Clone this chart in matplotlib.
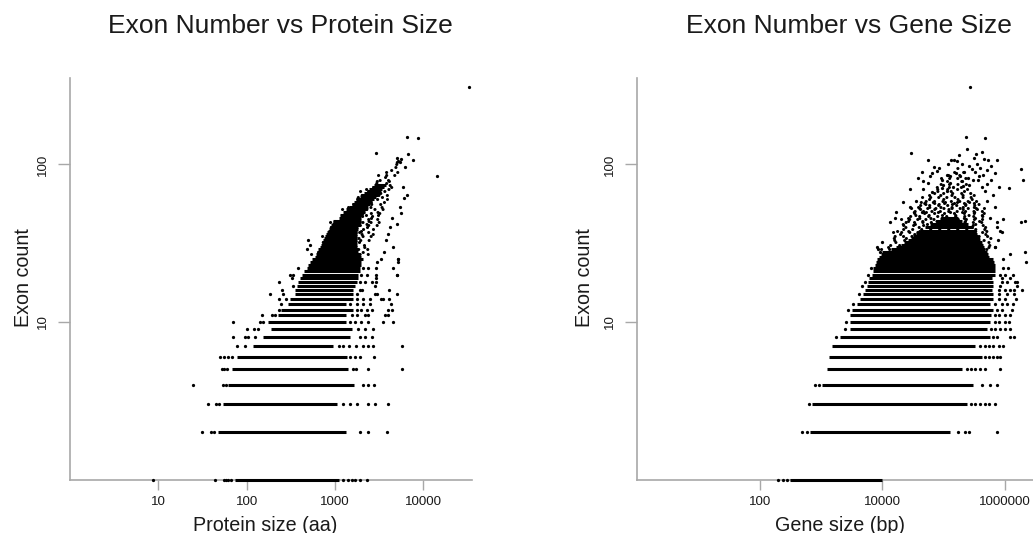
import matplotlib
matplotlib.use("Agg")
import matplotlib.pyplot as plt
from matplotlib.ticker import NullLocator

plt.rcParams['font.family'] = ['Liberation Sans', 'DejaVu Sans']

# ---------------- protein size panel ----------------
# packed runs of genes sharing one exon count: (exon count, smallest, largest protein size)
prot_row_n = [1, 2, 3, 4, 5, 6, 7, 8, 9, 10, 11, 12, 13, 14, 15, 16, 17, 18, 19, 20,
              21, 22, 23, 24, 25, 26, 27, 28, 29, 30, 31, 32, 33, 34, 35, 36, 37, 38,
              39, 40, 41, 42, 43, 44, 46, 48, 50, 52, 54, 56, 58, 60, 62, 64, 66, 68,
              70, 72, 74]
prot_row_lo = [74, 48, 54, 62, 68, 78, 118, 153, 190, 175, 228, 243, 297, 310, 353, 353,
               369, 385, 403, 421, 450, 479, 500, 520, 546, 600, 615, 630, 650, 680, 700,
               720, 740, 760, 780, 800, 820, 840, 860, 880, 900, 920, 940, 960, 1100,
               1150, 1250, 1350, 1450, 1550, 1650, 1750, 1900, 2000, 2150, 2300, 2450,
               2600, 2750]
prot_row_hi = [1100, 1350, 1050, 1650, 1420, 1370, 960, 1500, 1550, 1350, 1350, 1620,
               1350, 1620, 1620, 1620, 1690, 1770, 1850, 1850, 1900, 1930, 1950, 2000,
               2100, 1950, 1900, 1850, 1850, 1800, 1800, 1800, 1800, 1800, 1800, 1800,
               1800, 1800, 1850, 1850, 1900, 1900, 1950, 1950, 2000, 2100, 2200, 2300,
               2400, 2500, 2650, 2800, 2900, 3050, 3200, 3300, 3450, 3600, 3750]

# loosely populated exon counts around the packed core: (exon count, smallest, largest size)
prot_sparse_n = [27, 28, 29, 30, 31, 32, 33, 34, 35, 36, 37, 38, 39, 40, 41, 42, 43, 44,
                 45, 46, 47, 48, 49, 50, 52, 54, 56, 58, 60, 62, 64, 66, 68, 70, 72, 74,
                 76, 78, 80, 83, 86, 89, 92, 96, 100, 104]
prot_sparse_lo = [540, 560, 580, 600, 630, 650, 670, 690, 710, 730, 750, 770, 790, 800,
                  830, 850, 870, 890, 950, 1000, 1000, 1050, 1100, 1150, 1200, 1250, 1300,
                  1400, 1500, 1600, 1700, 1800, 1900, 2000, 2200, 2300, 2450, 2600, 2700,
                  2900, 3100, 3300, 3500, 3800, 4100, 4400]
prot_sparse_hi = [2500, 2400, 2600, 2500, 2700, 2500, 2800, 2600, 2900, 2700, 3000, 2800,
                  3000, 2800, 3100, 2900, 3200, 3000, 3300, 3100, 3300, 3200, 3400, 3300,
                  3500, 3400, 3700, 3600, 3900, 3800, 4100, 4000, 4300, 4200, 4500, 4400,
                  4700, 4600, 4900, 5000, 5200, 5300, 5400, 5500, 5600, 5700]

# isolated genes: (protein size, exon count)
prot_side_pts = [
    (8.7, 1), (44, 1), (55, 1), (58, 1), (62, 1), (66, 1), (1250, 1), (1400, 1),
    (1550, 1), (1700, 1), (1900, 1), (2300, 1),
    (31, 2), (40, 2), (43, 2), (1900, 2), (2370, 2), (3870, 2),
    (37, 3), (45, 3), (49, 3), (1250, 3), (1480, 3), (1770, 3), (2370, 3), (2840, 3), (4000, 3),
    (25, 4), (54, 4), (58, 4), (2100, 4), (2400, 4), (2800, 4),
    (52, 5), (56, 5), (60, 5), (1600, 5), (1750, 5), (2370, 5), (5800, 5),
    (50, 6), (56, 6), (62, 6), (68, 6), (1500, 6), (1700, 6), (1900, 6), (2800, 6),
    (77, 7), (96, 7), (1100, 7), (1250, 7), (1450, 7), (1750, 7), (2100, 7), (2400, 7),
    (2700, 7), (5700, 7),
    (71, 8), (95, 8), (105, 8), (125, 8), (1900, 8), (2200, 8), (2600, 8),
    (100, 9), (120, 9), (135, 9), (1850, 9), (2200, 9), (2700, 9),
    (71, 10), (140, 10), (155, 10), (1500, 10), (1700, 10), (2000, 10), (2400, 10),
    (3500, 10), (4600, 10),
    (148, 11), (195, 11), (210, 11), (1550, 11), (1800, 11), (2200, 11), (2400, 11),
    (3700, 11), (4000, 11),
    (235, 12), (1800, 12), (2000, 12), (2300, 12), (2600, 12), (4000, 12), (4400, 12),
    (245, 13), (1500, 13), (1800, 13), (2100, 13), (2500, 13), (4300, 13),
    (235, 14), (280, 14), (1800, 14), (2100, 14), (2500, 14), (3300, 14), (3500, 14),
    (184, 15), (260, 15), (1800, 15), (2840, 15), (3000, 15), (5000, 15),
    (250, 16), (1900, 16), (2050, 16), (4100, 16),
    (338, 17), (2840, 17), (230, 18), (1900, 18), (2200, 18), (2600, 18), (2900, 18),
    (330, 19), (2900, 19), (310, 20), (338, 20), (2000, 20), (2300, 20), (2900, 20),
    (5000, 20), (385, 22), (2100, 22), (2400, 22), (2900, 22), (4600, 22),
    (3000, 24), (5200, 24), (5200, 25), (3300, 25),
    (33000, 312), (6500, 150), (8800, 147), (2950, 118), (6800, 117), (7700, 107),
    (14200, 85), (4590, 30), (5240, 25), (5460, 54), (5010, 42), (4030, 36),
    (5950, 72), (6220, 97), (5010, 20), (4130, 14), (6490, 64), (6000, 61),
    (5600, 49), (5200, 105), (5450, 103), (5000, 110), (5600, 108),
    (480, 29), (500, 33), (520, 31), (4200, 40), (3800, 33), (4400, 46), (3600, 28),
]

# ---------------- gene size panel ----------------
gene_row_n = [1, 2, 3, 4, 5, 6, 7, 8, 9, 10, 11, 12, 13, 14, 15, 16, 17, 18, 19, 20,
              21, 22, 23, 24, 25, 26, 27, 28, 29, 30, 31, 32, 33, 34, 35, 36, 37, 38,
              40, 42, 44, 46]
gene_row_lo = [313, 664, 708, 1030, 1270, 1370, 1500, 2050, 2990, 2990, 2990, 3180, 3840,
               4340, 4800, 5240, 5580, 5940, 6170, 6750, 7000, 7180, 7500, 7800, 8130,
               9000, 9500, 10000, 14000, 17000, 20000, 23000, 26000, 29000, 32000, 35000,
               38000, 41000, 50000, 60000, 75000, 90000]
gene_row_hi = [9800, 128000, 239000, 300000, 198000, 420000, 326000, 570000, 507000,
               570000, 600000, 651000, 570000, 651000, 651000, 612000, 651000, 651000,
               612000, 693000, 680000, 693000, 680000, 660000, 651000, 560000, 540000,
               520000, 480000, 460000, 440000, 420000, 400000, 380000, 360000, 350000,
               340000, 330000, 300000, 250000, 200000, 170000]

gene_sparse_n = [29, 30, 31, 32, 33, 34, 35, 36, 37, 38, 39, 40, 41, 42, 43, 44, 45, 46,
                 47, 48, 49, 50, 51, 52, 53, 54, 55, 56, 57, 58, 59, 60, 62, 64, 66, 68,
                 70, 72, 75, 78, 82, 86, 90, 95]
gene_sparse_lo = [9500, 10500, 10000, 11500, 12000, 13000, 12500, 14000, 15000, 14500,
                  16000, 17000, 16500, 18000, 19000, 18500, 20000, 22000, 21000, 24000,
                  25000, 27000, 26000, 29000, 30000, 32000, 31000, 35000, 37000, 36000,
                  40000, 42000, 45000, 48000, 52000, 55000, 60000, 65000, 70000, 80000,
                  90000, 100000, 110000, 120000]
gene_sparse_hi = [600000, 650000, 580000, 620000, 560000, 640000, 590000, 610000, 560000,
                  600000, 580000, 540000, 570000, 520000, 550000, 500000, 530000, 480000,
                  510000, 460000, 490000, 440000, 470000, 420000, 450000, 400000, 430000,
                  380000, 410000, 360000, 390000, 340000, 370000, 320000, 350000, 300000,
                  330000, 280000, 310000, 260000, 290000, 250000, 270000, 240000]

# isolated genes: (gene size, exon count)
gene_side_pts = [
    (202, 1), (240, 1), (277, 1),
    (486, 2), (587, 2), (174000, 2), (224000, 2), (263000, 2), (738000, 2),
    (650, 3), (280000, 3), (330000, 3), (400000, 3), (470000, 3), (560000, 3), (700000, 3),
    (800, 4), (930, 4), (420000, 4), (570000, 4), (760000, 4),
    (240000, 5), (280000, 5), (330000, 5), (400000, 5), (470000, 5), (850000, 5),
    (480000, 6), (560000, 6), (650000, 6), (750000, 6), (850000, 6),
    (400000, 7), (480000, 7), (560000, 7), (650000, 7), (800000, 7), (950000, 7),
    (1760, 8), (650000, 8), (750000, 8), (1200000, 8), (1400000, 8),
    (2500, 9), (600000, 9), (700000, 9), (850000, 9), (1000000, 9), (1200000, 9),
    (2600, 10), (700000, 10), (800000, 10), (1000000, 10), (1150000, 10),
    (700000, 11), (800000, 11), (1000000, 11), (1200000, 11),
    (2800, 12), (750000, 12), (900000, 12), (1300000, 12),
    (3400, 13), (700000, 13), (900000, 13), (1100000, 13), (1350000, 13),
    (800000, 14), (1000000, 14), (1500000, 14),
    (4200, 15), (800000, 15), (1100000, 15), (1400000, 15),
    (800000, 16), (1000000, 16), (1200000, 16), (1400000, 16), (1900000, 16),
    (4700, 17), (850000, 17), (1600000, 17),
    (5200, 18), (900000, 18), (1100000, 18), (1450000, 18), (1600000, 18),
    (900000, 19), (1200000, 19), (5800, 20), (850000, 20), (1000000, 20), (1380000, 20),
    (6500, 22), (950000, 22), (1130000, 22), (2200000, 24), (950000, 25),
    (1200000, 27), (2100000, 28), (9200, 28), (8100, 30), (700000, 30),
    (270000, 312), (235000, 150), (470000, 148), (30000, 119), (340000, 117),
    (450000, 108), (540000, 106), (760000, 106), (56000, 106), (135000, 107),
    (150000, 106), (165000, 105), (70000, 97), (78000, 91), (290000, 93), (330000, 89),
    (380000, 85), (520000, 92), (113000, 86), (130000, 85), (183000, 85), (250000, 82),
    (300000, 80), (1850000, 93), (2000000, 80), (1150000, 71),
    (28000, 70), (47000, 70), (65000, 67), (93000, 71), (113000, 68), (143000, 72),
    (211000, 73), (420000, 72), (470000, 68), (650000, 64), (790000, 72),
    (22000, 58), (28000, 54), (36000, 59), (44000, 50),
    (507000, 59), (690000, 54), (950000, 45), (1850000, 43), (2150000, 44),
    (17000, 50), (16000, 46), (13500, 43), (570000, 46), (740000, 40), (900000, 37),
    (8600, 29), (9800, 32), (47000, 78), (60000, 84),
    (690000, 30), (770000, 33), (840000, 38), (740000, 43), (507000, 75),
    (370000, 80), (440000, 86), (100000, 74), (130000, 76), (200000, 78),
    (260000, 74), (160000, 88), (220000, 90), (95000, 80), (85000, 95), (200000, 100),
    (260000, 98), (120000, 101), (350000, 100), (400000, 95), (55000, 76), (65000, 88),
    (320000, 110), (180000, 115), (45000, 90), (38000, 82), (240000, 125),
    (430000, 120), (600000, 98), (700000, 88), (600000, 80),
]

prot_ticks = [10, 100, 1000, 10000]
gene_ticks = [100, 10000, 1000000]
exon_ticks = [10, 100]

W, H = 1033, 533
AXIS_GREY = '#a8a8a8'
TEXT = '#1a1a1a'
DOT = 2.2  # marker/row thickness in points
# dash gaps and phases (in line widths) used to break chains of dots out of alignment
GAPS = [2.6, 3.6, 2.9, 4.3, 3.2, 3.9, 2.7, 4.6]
PHASES = [0.0, 1.3, 0.6, 2.0, 0.9, 1.7, 0.3, 2.4]

fig = plt.figure(figsize=(W / 100, H / 100), dpi=100)
fig.patch.set_facecolor('white')


def panel(left, right, top, bottom, xmax):
    ax = fig.add_axes([left / W, 1 - bottom / H, (right - left) / W, (bottom - top) / H])
    ax.set_xscale('log')
    ax.set_yscale('log')
    ax.set_xlim(1, xmax)
    ax.set_ylim(1, 354)
    for side in ('top', 'right'):
        ax.spines[side].set_visible(False)
    for side in ('left', 'bottom'):
        ax.spines[side].set_color(AXIS_GREY)
        ax.spines[side].set_linewidth(1.2)
    ax.xaxis.set_minor_locator(NullLocator())
    ax.yaxis.set_minor_locator(NullLocator())
    ax.tick_params(axis='x', length=7, width=1.0, color=AXIS_GREY, labelsize=9.6,
                   labelcolor=TEXT, pad=5)
    ax.tick_params(axis='y', length=9, width=1.0, color=AXIS_GREY, labelsize=9.6,
                   labelcolor=TEXT, pad=6)
    ax.set_yticks(exon_ticks)
    ax.set_yticklabels([str(t) for t in exon_ticks], rotation=90, va='center')
    return ax


def draw(ax, rows, sparse, pts):
    n, lo, hi = rows
    ax.hlines(n, lo, hi, colors='black', linewidth=DOT, clip_on=False, zorder=3)
    # loosely populated counts are drawn as chains of separate dots
    sn, slo, shi = sparse
    for i, (k, a, b) in enumerate(zip(sn, slo, shi)):
        gap = GAPS[i % len(GAPS)]
        phase = PHASES[(i * 3) % len(PHASES)]
        lc = ax.hlines([k], [a], [b], colors='black', linewidth=DOT, clip_on=False,
                       zorder=3, linestyles=[(phase, (0.05, gap))])
        lc.set_capstyle('round')
    ax.scatter([p[0] for p in pts], [p[1] for p in pts], s=5.5, c='black',
               linewidths=0, clip_on=False, zorder=3)


ax1 = panel(70, 472, 78, 479.5, 35700)
draw(ax1, (prot_row_n, prot_row_lo, prot_row_hi),
     (prot_sparse_n, prot_sparse_lo, prot_sparse_hi), prot_side_pts)
ax1.set_xticks(prot_ticks)
ax1.set_xticklabels([str(t) for t in prot_ticks])

ax2 = panel(637, 1043, 78, 479.5, 4.2e6)
draw(ax2, (gene_row_n, gene_row_lo, gene_row_hi),
     (gene_sparse_n, gene_sparse_lo, gene_sparse_hi), gene_side_pts)
ax2.set_xticks(gene_ticks)
ax2.set_xticklabels([str(t) for t in gene_ticks])

# titles and axis captions
fig.text(280 / W, 1 - 33 / H, 'Exon Number vs Protein Size', fontsize=19,
         ha='center', va='baseline', color=TEXT)
fig.text(849 / W, 1 - 33 / H, 'Exon Number vs Gene Size', fontsize=19,
         ha='center', va='baseline', color=TEXT)
fig.text(265 / W, 1 - 531 / H, 'Protein size (aa)', fontsize=14.2,
         ha='center', va='baseline', color=TEXT)
fig.text(840 / W, 1 - 531 / H, 'Gene size (bp)', fontsize=14.2,
         ha='center', va='baseline', color=TEXT)
fig.text(24 / W, 1 - 278 / H, 'Exon count', fontsize=14.2, rotation=90,
         ha='center', va='center', color=TEXT)
fig.text(585 / W, 1 - 278 / H, 'Exon count', fontsize=14.2, rotation=90,
         ha='center', va='center', color=TEXT)

fig.savefig('out.png', dpi=100, facecolor='white')
